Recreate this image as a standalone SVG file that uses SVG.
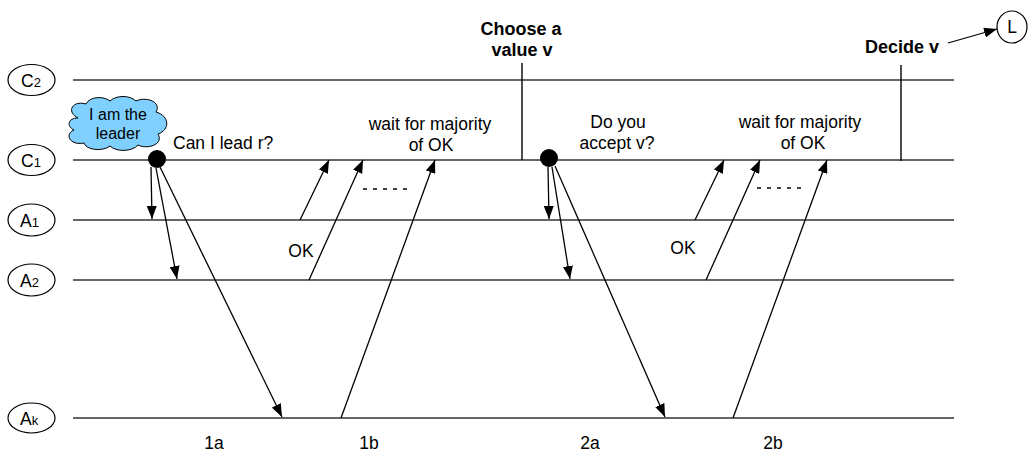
<svg xmlns="http://www.w3.org/2000/svg" width="1028" height="456" viewBox="0 0 1028 456">
<defs>
<marker id="ah" viewBox="0 0 13 10" refX="13" refY="5" markerWidth="13" markerHeight="10" markerUnits="userSpaceOnUse" orient="auto">
<path d="M0,0 L13,5 L0,10 Z" fill="#000"/>
</marker>
<style>
text{font-family:"Liberation Sans",Arial,sans-serif;fill:#000}
.t{font-size:17.5px}
.b{font-size:18px;font-weight:bold}
.c{font-size:16px}
.sub{font-size:13px}
.node{fill:#fff;stroke:#000;stroke-width:1.2}
.life{stroke:#333;stroke-width:1.6;fill:none}
.arr{stroke:#000;stroke-width:1.3;fill:none;marker-end:url(#ah)}
.tick{stroke:#000;stroke-width:1.4;fill:none}
.dash{stroke:#000;stroke-width:1.5;stroke-dasharray:4 6;fill:none}
</style>
</defs>
<rect width="1028" height="456" fill="#fff"/>

<g id="C2">
<ellipse class="node" cx="31.5" cy="80" rx="23.5" ry="15.5"/>
<text class="t" x="21" y="86.5">C<tspan class="sub">2</tspan></text>
<line class="life" x1="73" y1="80" x2="954" y2="80"/>
</g>
<g id="C1">
<ellipse class="node" cx="31.5" cy="160" rx="23.5" ry="15.5"/>
<text class="t" x="21" y="166.5">C<tspan class="sub">1</tspan></text>
<line class="life" x1="73" y1="160" x2="954" y2="160"/>
</g>
<g id="A1">
<ellipse class="node" cx="31.5" cy="220" rx="23.5" ry="16"/>
<text class="t" x="20" y="226.5">A<tspan class="sub">1</tspan></text>
<line class="life" x1="73" y1="220" x2="954" y2="220"/>
</g>
<g id="A2">
<ellipse class="node" cx="31.5" cy="280" rx="23.5" ry="16"/>
<text class="t" x="20" y="286.5">A<tspan class="sub">2</tspan></text>
<line class="life" x1="73" y1="280" x2="954" y2="280"/>
</g>
<g id="Ak">
<ellipse class="node" cx="31.5" cy="418" rx="23.5" ry="15"/>
<text class="t" x="20" y="424.5">A<tspan class="sub">k</tspan></text>
<line class="life" x1="73" y1="418" x2="954" y2="418"/>
</g>
<g id="L">
<ellipse class="node" cx="1012" cy="27" rx="15" ry="16"/>
<text class="t" x="1012" y="33" text-anchor="middle">L</text>
</g>

<g id="leader-cloud">
<path d="M78,118 C66,112 72,100 86,104 C90,96 104,96 110,101 C116,95 130,95 136,101 C146,96 162,102 156,112 C170,116 170,130 158,134 C164,144 148,150 138,145 C132,152 116,152 110,146 C102,152 86,150 84,143 C70,146 64,134 74,130 C66,126 68,118 78,118 Z" fill="#80d0ff" stroke="#000" stroke-width="1"/>
<text class="c" x="118" y="120" text-anchor="middle">I am the</text>
<text class="c" x="118" y="139" text-anchor="middle">leader</text>
</g>

<g id="dot1"><circle cx="157" cy="159" r="9" fill="#000"/></g>
<g id="dot2"><circle cx="549" cy="158" r="9" fill="#000"/></g>

<g id="choose">
<line class="tick" x1="522" y1="63" x2="522" y2="160"/>
<text class="b" x="521" y="35" text-anchor="middle">Choose a</text>
<text class="b" x="522" y="56" text-anchor="middle">value v</text>
</g>
<g id="decide">
<line class="tick" x1="901" y1="65" x2="901" y2="161"/>
<text class="b" x="902" y="53" text-anchor="middle">Decide v</text>
</g>

<g id="connectors">
<line class="arr" x1="151" y1="167" x2="152" y2="219"/>
<line class="arr" x1="156" y1="168" x2="177" y2="279"/>
<line class="arr" x1="160" y1="167" x2="282" y2="417"/>
<line class="arr" x1="300" y1="220" x2="329" y2="160"/>
<line class="arr" x1="309" y1="280" x2="363" y2="160"/>
<line class="arr" x1="341" y1="418" x2="435" y2="160"/>
<line class="dash" x1="363" y1="189" x2="408" y2="189"/>

<line class="arr" x1="548" y1="167" x2="549" y2="219"/>
<line class="arr" x1="552" y1="167" x2="570" y2="279"/>
<line class="arr" x1="555" y1="166" x2="665" y2="417"/>
<line class="arr" x1="695" y1="220" x2="724" y2="160"/>
<line class="arr" x1="706" y1="280" x2="760" y2="160"/>
<line class="arr" x1="733" y1="418" x2="827" y2="160"/>
<line class="dash" x1="757" y1="188" x2="802" y2="188"/>

<line class="arr" x1="948" y1="43" x2="997" y2="29"/>
</g>

<g id="labels">
<text class="t" x="173" y="149">Can I lead r?</text>
<text class="t" x="430" y="130" text-anchor="middle">wait for majority</text>
<text class="t" x="431" y="151" text-anchor="middle">of OK</text>
<text class="t" x="301" y="257" text-anchor="middle">OK</text>
<text class="t" x="618" y="128" text-anchor="middle">Do you</text>
<text class="t" x="617" y="149" text-anchor="middle">accept v?</text>
<text class="t" x="800" y="128" text-anchor="middle">wait for majority</text>
<text class="t" x="803" y="149" text-anchor="middle">of OK</text>
<text class="t" x="683" y="254" text-anchor="middle">OK</text>
<text class="t" x="214" y="449" text-anchor="middle">1a</text>
<text class="t" x="369" y="449" text-anchor="middle">1b</text>
<text class="t" x="590" y="449" text-anchor="middle">2a</text>
<text class="t" x="773" y="449" text-anchor="middle">2b</text>
</g>
</svg>
